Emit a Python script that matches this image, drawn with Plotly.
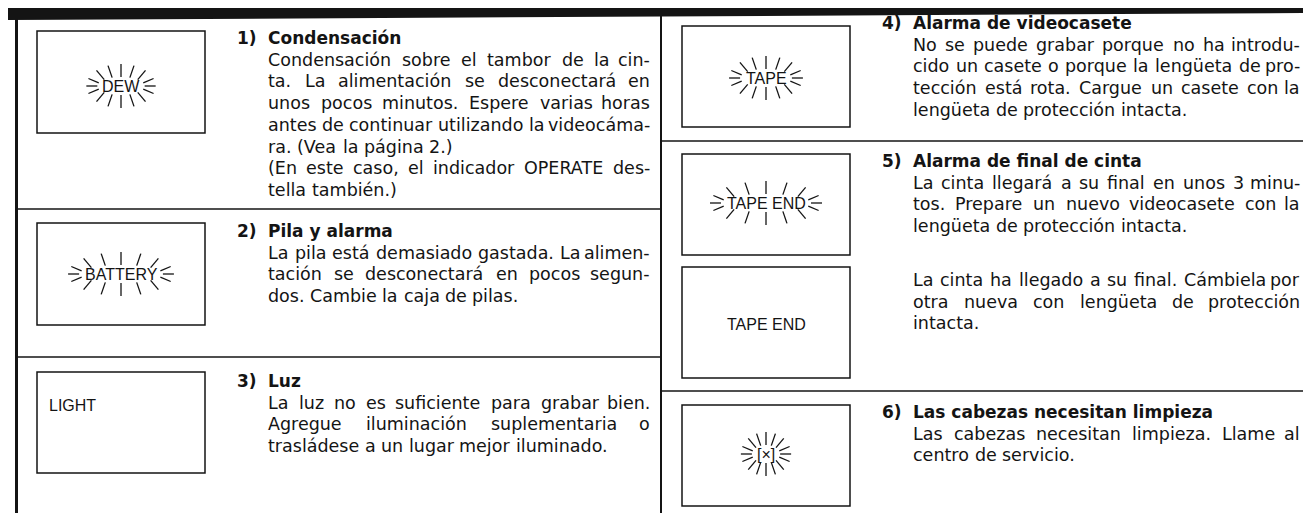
import math
import plotly.graph_objects as go

W, H = 1311, 513

# ---------------- content (text data) ----------------
item_numbers = ["1)", "2)", "3)", "4)", "5)", "6)"]
item_titles = [
    "Condensación",
    "Pila y alarma",
    "Luz",
    "Alarma de videocasete",
    "Alarma de final de cinta",
    "Las cabezas necesitan limpieza",
]
item1_text = [[
    "Condensación sobre el tambor de la cin-",
    "ta. La alimentación se desconectará en",
    "unos pocos minutos. Espere varias horas",
    "antes de continuar utilizando la videocáma-",
    "ra. (Vea la página 2.)",
], [
    "(En este caso, el indicador OPERATE des-",
    "tella también.)",
]]
item2_text = [[
    "La pila está demasiado gastada. La alimen-",
    "tación se desconectará en pocos segun-",
    "dos. Cambie la caja de pilas.",
]]
item3_text = [[
    "La luz no es suficiente para grabar bien.",
    "Agregue iluminación suplementaria o",
    "trasládese a un lugar mejor iluminado.",
]]
item4_text = [[
    "No se puede grabar porque no ha introdu-",
    "cido un casete o porque la lengüeta de pro-",
    "tección está rota. Cargue un casete con la",
    "lengüeta de protección intacta.",
]]
item5_text = [[
    "La cinta llegará a su final en unos 3 minu-",
    "tos. Prepare un nuevo videocasete con la",
    "lengüeta de protección intacta.",
]]
item5b_text = [[
    "La cinta ha llegado a su final. Cámbiela por",
    "otra nueva con lengüeta de protección",
    "intacta.",
]]
item6_text = [[
    "Las cabezas necesitan limpieza. Llame al",
    "centro de servicio.",
]]
display_labels = ["DEW", "BATTERY", "LIGHT", "TAPE", "TAPE END", "TAPE END", "[×]"]
display_flashing = [True, True, False, True, True, False, True]

# ---------------- layout constants ----------------
INK = "#141414"
BODY_FONT = "DejaVu Sans"
BODY_SIZE = 17.5
HEAD_SIZE = 17
LABEL_FONT = "Liberation Sans"
LABEL_SIZE = 16
LINE_H = 21.7

COLS = {
    "L": dict(num=228, x0=259, x1=643, box=(29, 197)),
    "R": dict(num=873, x0=904, x1=1293, box=(674, 842)),
}

# DejaVu Sans advance widths (units per 2048)
DV = {' ': 651, '!': 821, '(': 799, ')': 799, ',': 651, '-': 739, '.': 651, ':': 690,
      'A': 1401, 'B': 1405, 'C': 1430, 'D': 1577, 'E': 1294, 'F': 1178, 'G': 1587, 'H': 1540,
      'I': 604, 'J': 604, 'K': 1343, 'L': 1141, 'M': 1767, 'N': 1532, 'O': 1612, 'P': 1235,
      'Q': 1612, 'R': 1423, 'S': 1300, 'T': 1251, 'U': 1499, 'V': 1401, 'W': 2025, 'X': 1403,
      'Y': 1251, 'Z': 1403,
      'a': 1255, 'b': 1300, 'c': 1126, 'd': 1300, 'e': 1260, 'f': 721, 'g': 1300, 'h': 1298,
      'i': 569, 'j': 569, 'k': 1186, 'l': 569, 'm': 1995, 'n': 1298, 'o': 1253, 'p': 1300,
      'q': 1300, 'r': 842, 's': 1067, 't': 803, 'u': 1298, 'v': 1212, 'w': 1675, 'x': 1212,
      'y': 1212, 'z': 1075,
      'á': 1255, 'é': 1260, 'í': 569, 'ó': 1253, 'ú': 1298, 'ü': 1298, 'ñ': 1298}
for d in "0123456789":
    DV[d] = 1303
# Arial / Liberation Sans widths (units per 1000)
AR = {'A': 667, 'B': 667, 'D': 722, 'E': 667, 'G': 778, 'H': 722, 'I': 278, 'L': 556,
      'N': 722, 'P': 667, 'R': 722, 'T': 611, 'W': 944, 'Y': 667, ' ': 278, '[': 278,
      ']': 278, '×': 584}


def dv_width(s, size):
    return sum(DV.get(c, 1250) for c in s) / 2048.0 * size


def ar_width(s, size):
    return sum(AR.get(c, 600) for c in s) / 1000.0 * size


annotations = []
shapes = []


def add_text(x, y, text, size, family=BODY_FONT, anchor="left", bold=False):
    annotations.append(dict(
        x=x, y=y, xref="x", yref="y", showarrow=False,
        text=("<b>%s</b>" % text) if bold else text,
        xanchor=anchor, yanchor="middle", borderpad=0,
        font=dict(family=family, size=size, color=INK)))


def add_line(x0, y0, x1, y1, width=1.5):
    shapes.append(dict(type="line", xref="x", yref="y", x0=x0, y0=y0, x1=x1, y1=y1,
                       line=dict(color=INK, width=width)))


def add_rect(x0, y0, x1, y1, width=1.5):
    shapes.append(dict(type="rect", xref="x", yref="y", x0=x0, y0=y0, x1=x1, y1=y1,
                       line=dict(color=INK, width=width), fillcolor="rgba(0,0,0,0)"))


def add_paragraphs(col, y, paragraphs):
    c = COLS[col]
    for para in paragraphs:
        for i, line in enumerate(para):
            words = line.split(" ")
            widths = [dv_width(w, BODY_SIZE) for w in words]
            justify = i < len(para) - 1 and len(words) > 1
            if justify:
                gap = (c["x1"] - c["x0"] - sum(widths)) / (len(words) - 1)
            else:
                gap = dv_width(" ", BODY_SIZE)
            x = c["x0"]
            for k, (w, wd) in enumerate(zip(words, widths)):
                if justify and k == len(words) - 1:
                    add_text(c["x1"], y, w, BODY_SIZE, anchor="right")
                else:
                    add_text(x, y, w, BODY_SIZE)
                x += wd + gap
            y += LINE_H
    return y


def add_heading(col, y, idx):
    c = COLS[col]
    add_text(c["num"], y, item_numbers[idx], HEAD_SIZE, bold=True)
    add_text(c["x0"], y, item_titles[idx], HEAD_SIZE, bold=True)


def add_display(col, y0, y1, idx, label_y=None, left_label=False):
    c = COLS[col]
    bx0, bx1 = c["box"]
    add_rect(bx0, y0, bx1, y1)
    label = display_labels[idx]
    cx = (bx0 + bx1) / 2.0
    cy = label_y if label_y is not None else (y0 + y1) / 2.0
    if left_label:
        add_text(bx0 + 11, cy, label, LABEL_SIZE, family=LABEL_FONT)
        return
    add_text(cx, cy, label, LABEL_SIZE, family=LABEL_FONT, anchor="center")
    if display_flashing[idx]:
        tw = ar_width(label, LABEL_SIZE)
        angles = [0, 20, 45, 68, 90, 112, 135, 160, 180, 200, 225, 248, 270, 292, 315, 340]
        a_in, b_in = tw / 2 + 5, 9
        a_out, b_out = tw / 2 + 16, 22
        for ang in angles:
            t = math.radians(ang)
            add_line(cx + a_in * math.cos(t), cy + b_in * math.sin(t),
                     cx + a_out * math.cos(t), cy + b_out * math.sin(t), width=1.3)


# ---------------- frame ----------------
shapes.append(dict(type="path", xref="x", yref="y", path="M0,0 L1311,0 L1311,5 L0,12 Z",
                   fillcolor=INK, line=dict(width=0)))
add_line(8.5, 0, 8.5, H, width=3)
add_line(653, 0, 653, H, width=2)
add_line(1307, 0, 1307, H, width=2)
add_line(8.5, 201, 653, 201)
add_line(8.5, 349, 653, 349)
add_line(653, 133, 1307, 133)
add_line(653, 383, 1307, 383)
add_line(653, 511.5, 1307, 511.5, width=2)
add_line(560, 511.5, 653, 511.5, width=2)

# ---------------- left column ----------------
add_display("L", 23, 125, 0, label_y=78)
add_heading("L", 30, 0)
add_paragraphs("L", 30 + LINE_H, item1_text)

add_display("L", 215, 317, 1, label_y=266)
add_heading("L", 223, 1)
add_paragraphs("L", 223 + LINE_H, item2_text)

add_display("L", 364, 465, 2, label_y=397, left_label=True)
add_heading("L", 373, 2)
add_paragraphs("L", 373 + LINE_H, item3_text)

# ---------------- right column ----------------
add_display("R", 18, 119, 3, label_y=70)
add_heading("R", 15, 3)
add_paragraphs("R", 15 + LINE_H, item4_text)

add_display("R", 146, 247, 4, label_y=195)
add_heading("R", 153, 4)
add_paragraphs("R", 153 + LINE_H, item5_text)

add_display("R", 259, 370, 5, label_y=316)
add_paragraphs("R", 272, item5b_text)

add_display("R", 397, 498, 6, label_y=446)
add_heading("R", 404, 5)
add_paragraphs("R", 404 + LINE_H, item6_text)

fig = go.Figure()
fig.update_layout(
    width=W, height=H, margin=dict(l=0, r=0, t=0, b=0),
    paper_bgcolor="white", plot_bgcolor="white",
    xaxis=dict(range=[0, W], visible=False, fixedrange=True),
    yaxis=dict(range=[H, 0], visible=False, fixedrange=True),
    shapes=shapes, annotations=annotations, showlegend=False, hovermode=False,
)
fig.write_html("out.html")
